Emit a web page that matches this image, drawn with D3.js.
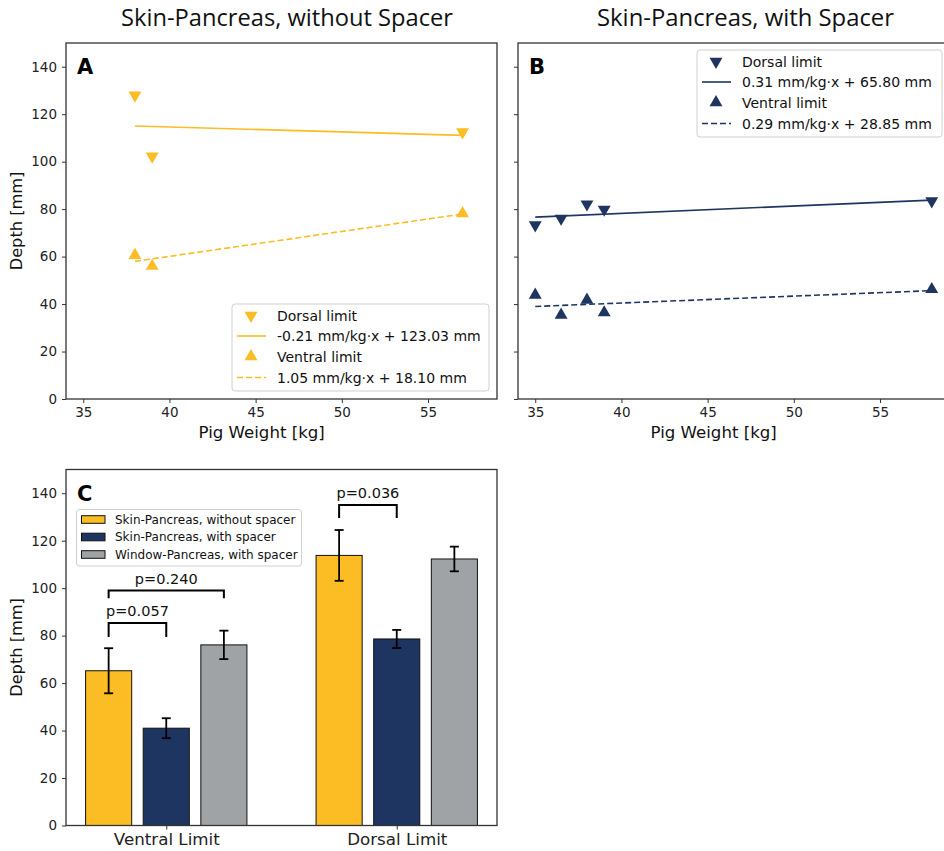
<!DOCTYPE html>
<html>
	<head>
		<meta charset="utf-8">
		<style type="text/css">
			body { margin: 0; background: white; }
			svg { display: block; }
			svg text { font-family: "DejaVu Sans", sans-serif; }
			.title { font-size: 23px; fill: #111; }
		</style>
		<title>Depth vs pig weight</title>
	</head>
	<body>
		<svg id="graph"></svg>
		<script src="https://cdn.jsdelivr.net/npm/d3@7"></script>
		<script>

// ---- data ----
var xTicks = [35, 40, 45, 50, 55];
var yTicks = [0, 20, 40, 60, 80, 100, 120, 140];

// panel A: skin-pancreas without spacer
var dorsalA  = [[38, 128.0], [39, 102.3], [57, 112.5]];
var ventralA = [[38, 60.6], [39, 56.0], [57, 78.2]];
var dorsalFitA  = [[38, 115.05], [57, 111.06]];
var ventralFitA = [[38, 58.0], [57, 77.95]];
var legendA = ["Dorsal limit", "-0.21 mm/kg\u00b7x + 123.03 mm", "Ventral limit", "1.05 mm/kg\u00b7x + 18.10 mm"];

// panel B: skin-pancreas with spacer
var dorsalB  = [[35, 73.3], [36.5, 76.1], [38, 82.1], [39, 79.9], [58, 83.4]];
var ventralB = [[35, 43.8], [36.5, 35.4], [38, 41.7], [39, 36.4], [58, 46.2]];
var dorsalFitB  = [[35, 76.65], [58, 83.78]];
var ventralFitB = [[35, 39.0], [58, 45.67]];
var legendB = ["Dorsal limit", "0.31 mm/kg\u00b7x + 65.80 mm", "Ventral limit", "0.29 mm/kg\u00b7x + 28.85 mm"];

// panel C: grouped bars
var groups = ["Ventral Limit", "Dorsal Limit"];
var seriesNames = ["Skin-Pancreas, without spacer", "Skin-Pancreas, with spacer", "Window-Pancreas, with spacer"];
var noSpacerMean = [65.2, 113.8], noSpacerErr = [9.5, 10.7];
var spacerMean   = [41.0, 78.6],  spacerErr   = [4.2, 3.8];
var windowMean   = [76.1, 112.3], windowErr   = [6.0, 5.2];
var pTests = [
	{label: "p=0.057", group: 0, a: 0, b: 1, top: 85.3, leg: 79.4},
	{label: "p=0.240", group: 0, a: 0, b: 2, top: 99.0, leg: 95.8},
	{label: "p=0.036", group: 1, a: 0, b: 1, top: 135.0, leg: 129.6}
];

var titles = ["Skin-Pancreas, without Spacer", "Skin-Pancreas, with Spacer"];

var yellow = "#fbbc24", navy = "#1f3561", grey = "#a0a3a5";
var colors = [yellow, navy, grey];

// ---- layout ----
var svg = d3.select('#graph')
	.attr("width", 944)
	.attr("height", 851);

var plotW = 431, plotH = 356;

var y = d3.scaleLinear().domain([0, 150]).range([plotH, 0]);

function styleAxis(a, size) {
	a.attr('font-family', null).attr('font-size', null);
	a.select('.domain').remove();
	a.selectAll('.tick line').attr('stroke', '#333');
	a.selectAll('.tick text').attr('font-size', size).attr('fill', '#222');
}

function frame(g) {
	g.append('rect')
		.attr('width', plotW).attr('height', plotH)
		.attr('fill', 'none').attr('stroke', '#333').attr('stroke-width', 1.3);
}

function yAxis(g, labels) {
	var ax = d3.axisLeft(y).tickValues(yTicks).tickSize(4).tickPadding(5).tickSizeOuter(0);
	if (!labels) ax.tickFormat("");
	styleAxis(g.append('g').call(ax), '13.5px');
	if (labels) {
		g.append('text')
			.text("Depth [mm]")
			.attr('transform', 'translate(-44,' + plotH/2 + ') rotate(-90)')
			.attr('text-anchor', 'middle')
			.attr('font-size', '16.2px').attr('fill', '#111');
	}
}

function letter(g, t) {
	g.append('text').text(t)
		.attr('x', 11).attr('y', 31)
		.attr('font-weight', 'bold').attr('font-size', '21px').attr('fill', '#000');
}

function scatterPanel(left, top, color, dorsal, ventral, dFit, vFit, leg, legBox, tag, yLabels) {
	var g = svg.append('g').attr('transform', 'translate(' + left + ',' + top + ')');
	var x = d3.scaleLinear().domain([34, 59]).range([0, plotW]);

	var xa = g.append('g')
		.attr('transform', 'translate(0,' + plotH + ')')
		.call(d3.axisBottom(x).tickValues(xTicks).tickSize(4).tickPadding(4).tickSizeOuter(0));
	styleAxis(xa, '13.5px');
	g.append('text')
		.text("Pig Weight [kg]")
		.attr('x', x(45.35)).attr('y', plotH + 39)
		.attr('text-anchor', 'middle')
		.attr('font-size', '16.6px').attr('fill', '#111');
	yAxis(g, yLabels);

	var line = d3.line().x(d => x(d[0])).y(d => y(d[1]));
	g.append('path').datum(dFit).attr('d', line)
		.attr('fill', 'none').attr('stroke', color).attr('stroke-width', 1.6);
	g.append('path').datum(vFit).attr('d', line)
		.attr('fill', 'none').attr('stroke', color).attr('stroke-width', 1.6)
		.attr('stroke-dasharray', '6,3');

	var tri = d3.symbol(d3.symbolTriangle).size(72);
	g.selectAll('.dorsal').data(dorsal).enter().append('path')
		.attr('class', 'dorsal')
		.attr('d', tri)
		.attr('transform', d => 'translate(' + x(d[0]) + ',' + y(d[1]) + ') rotate(180)')
		.attr('fill', color);
	g.selectAll('.ventral').data(ventral).enter().append('path')
		.attr('class', 'ventral')
		.attr('d', tri)
		.attr('transform', d => 'translate(' + x(d[0]) + ',' + y(d[1]) + ')')
		.attr('fill', color);

	// legend
	var lg = g.append('g').attr('transform', 'translate(' + legBox.x + ',' + legBox.y + ')');
	lg.append('rect')
		.attr('width', legBox.w).attr('height', 87).attr('rx', 3)
		.attr('fill', 'white').attr('fill-opacity', 0.85)
		.attr('stroke', '#d0d0d0');
	var rowY = [11.5, 32, 52.5, 73.5];
	leg.forEach(function(t, i) {
		var ry = rowY[i];
		if (i == 0 || i == 2) {
			lg.append('path')
				.attr('d', tri)
				.attr('transform', 'translate(19,' + ry + ')' + (i == 0 ? ' rotate(180)' : ''))
				.attr('fill', color);
		} else {
			lg.append('line')
				.attr('x1', 5).attr('x2', 34).attr('y1', ry).attr('y2', ry)
				.attr('stroke', color).attr('stroke-width', 1.6)
				.attr('stroke-dasharray', i == 3 ? '6,3' : null);
		}
		lg.append('text').text(t)
			.attr('x', 45).attr('y', ry).attr('dy', '0.36em')
			.attr('font-size', '14px').attr('fill', '#111');
	});

	letter(g, tag);
	frame(g);
}

scatterPanel(66, 43, yellow, dorsalA, ventralA, dorsalFitA, ventralFitA,
	legendA, {x: 166, y: 261, w: 257}, "A", true);
scatterPanel(518, 43, navy, dorsalB, ventralB, dorsalFitB, ventralFitB,
	legendB, {x: 179, y: 7, w: 245}, "B", false);

// titles, stretched to the widths seen in the figure
svg.selectAll('.title').data(titles).enter().append('text')
	.attr('class', 'title')
	.text(d => d)
	.attr('x', (d, i) => i == 0 ? 121 : 597)
	.attr('y', 26)
	.attr('textLength', (d, i) => i == 0 ? 332 : 297)
	.attr('lengthAdjust', 'spacingAndGlyphs')
	.style('font-family', '"Liberation Sans Narrow", "Open Sans", sans-serif');

// ---- panel C ----
var gc = svg.append('g').attr('transform', 'translate(66,469.5)');
var xc = d3.scaleLinear().domain([-0.435, 1.435]).range([0, plotW]);
var offsets = [-0.25, 0, 0.25], barW = 0.2;
var means = [noSpacerMean, spacerMean, windowMean];
var errs  = [noSpacerErr, spacerErr, windowErr];

var bars = [];
means.forEach(function(m, s) {
	m.forEach(function(v, gi) {
		bars.push({s: s, g: gi, v: v, e: errs[s][gi], cx: gi + offsets[s]});
	});
});

gc.selectAll('.bar').data(bars).enter().append('rect')
	.attr('class', 'bar')
	.attr('x', d => xc(d.cx - barW/2))
	.attr('width', d => xc(d.cx + barW/2) - xc(d.cx - barW/2))
	.attr('y', d => y(d.v))
	.attr('height', d => y(0) - y(d.v))
	.attr('fill', d => colors[d.s])
	.attr('stroke', '#111').attr('stroke-width', 1);

var eb = gc.selectAll('.err').data(bars).enter().append('g')
	.attr('class', 'err')
	.attr('stroke', '#000').attr('stroke-width', 1.8);
eb.append('line')
	.attr('x1', d => xc(d.cx)).attr('x2', d => xc(d.cx))
	.attr('y1', d => y(d.v - d.e)).attr('y2', d => y(d.v + d.e));
eb.append('line')
	.attr('x1', d => xc(d.cx) - 4.5).attr('x2', d => xc(d.cx) + 4.5)
	.attr('y1', d => y(d.v - d.e)).attr('y2', d => y(d.v - d.e));
eb.append('line')
	.attr('x1', d => xc(d.cx) - 4.5).attr('x2', d => xc(d.cx) + 4.5)
	.attr('y1', d => y(d.v + d.e)).attr('y2', d => y(d.v + d.e));

// significance brackets
pTests.forEach(function(p) {
	var xa = xc(p.group + offsets[p.a]), xb = xc(p.group + offsets[p.b]);
	gc.append('path')
		.attr('d', 'M' + xa + ',' + y(p.leg) + 'V' + y(p.top) + 'H' + xb + 'V' + y(p.leg))
		.attr('fill', 'none').attr('stroke', '#000').attr('stroke-width', 2);
	gc.append('text').text(p.label)
		.attr('x', (xa + xb) / 2).attr('y', y(p.top) - 7)
		.attr('text-anchor', 'middle')
		.attr('font-size', '14.5px').attr('fill', '#111');
});

var xca = gc.append('g')
	.attr('transform', 'translate(0,' + plotH + ')')
	.call(d3.axisBottom(xc).tickValues([0, 1]).tickFormat(i => groups[i]).tickSize(4).tickPadding(4).tickSizeOuter(0));
styleAxis(xca, '16.7px');
yAxis(gc, true);

// legend C
var lc = gc.append('g').attr('transform', 'translate(10.5,40)');
lc.append('rect')
	.attr('width', 225).attr('height', 56.5).attr('rx', 3)
	.attr('fill', 'white').attr('fill-opacity', 0.85)
	.attr('stroke', '#d0d0d0');
seriesNames.forEach(function(n, i) {
	var ry = 10 + i * 17.5;
	lc.append('rect')
		.attr('x', 5).attr('y', ry - 3.8).attr('width', 23.5).attr('height', 7.6)
		.attr('fill', colors[i]).attr('stroke', '#111').attr('stroke-width', 1);
	lc.append('text').text(n)
		.attr('x', 38.5).attr('y', ry).attr('dy', '0.36em')
		.attr('font-size', '12px').attr('fill', '#111');
});

letter(gc, "C");
frame(gc);

		</script>
	</body>
</html>
